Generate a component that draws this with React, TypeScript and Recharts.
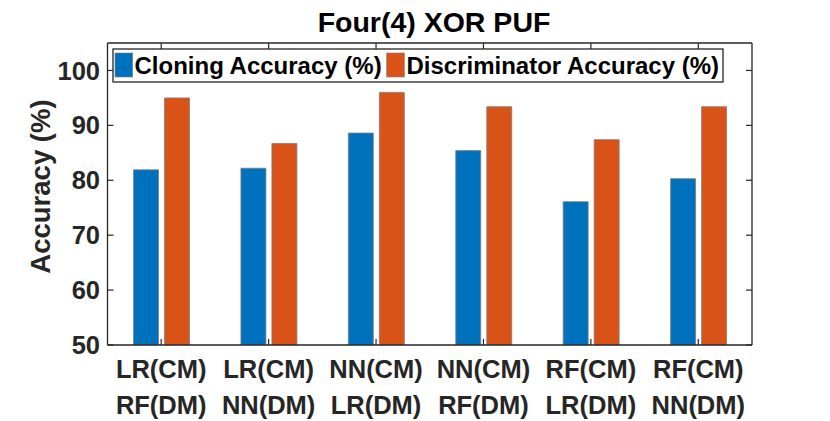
import { BarChart, Bar, XAxis, YAxis } from 'recharts';

// values
const cmLabels = ['LR(CM)', 'LR(CM)', 'NN(CM)', 'NN(CM)', 'RF(CM)', 'RF(CM)'];
const dmLabels = ['RF(DM)', 'NN(DM)', 'LR(DM)', 'RF(DM)', 'LR(DM)', 'NN(DM)'];
const cloningAccuracy = [81.9, 82.2, 88.6, 85.4, 76.1, 80.3];
const discriminatorAccuracy = [95.0, 86.7, 96.0, 93.4, 87.4, 93.4];
const yTicks = [50, 60, 70, 80, 90, 100];

const data = cmLabels.map((cm, i) => ({
  name: `${cm} ${dmLabels[i]} ${i}`,
  cloning: cloningAccuracy[i],
  discriminator: discriminatorAccuracy[i],
}));

const W = 830;
const H = 421;
const LEFT = 107.5;
const TOP = 43;
const RIGHT = 752;
const BOTTOM = 345;
const AXIS = '#262626';
const FONT = '"Liberation Sans", Arial, Helvetica, sans-serif';
const BLUE = '#0072BD';
const ORANGE = '#D95319';

const LeftTick = (props: any) => {
  const { y, payload } = props;
  return (
    <g>
      <line x1={LEFT} x2={LEFT + 6} y1={y} y2={y} stroke={AXIS} strokeWidth={1.2} />
      <text x={LEFT - 7.5} y={y} dy="0.355em" textAnchor="end" fontFamily={FONT} fontWeight="bold" fontSize={25.5} fill={AXIS}>
        {payload.value}
      </text>
    </g>
  );
};

const RightTick = (props: any) => (
  <line x1={RIGHT - 6} x2={RIGHT} y1={props.y} y2={props.y} stroke={AXIS} strokeWidth={1.2} />
);

const BottomTick = (props: any) => {
  const { x, payload } = props;
  const i = payload.index;
  return (
    <g>
      <line x1={x} x2={x} y1={BOTTOM} y2={BOTTOM - 6} stroke={AXIS} strokeWidth={1.2} />
      <text textAnchor="middle" fontFamily={FONT} fontWeight="bold" fontSize={25.5} fill={AXIS}>
        <tspan x={x} y={BOTTOM + 33.3}>{cmLabels[i]}</tspan>
        <tspan x={x} y={BOTTOM + 69}>{dmLabels[i]}</tspan>
      </text>
    </g>
  );
};

const TopTick = (props: any) => (
  <line x1={props.x} x2={props.x} y1={TOP} y2={TOP + 6} stroke={AXIS} strokeWidth={1.2} />
);

export default function App() {
  return (
    <div style={{ position: 'relative', width: W, height: H, background: '#fff' }}>
      <style>{'body{margin:0}'}</style>
      <BarChart
        width={W}
        height={H}
        data={data}
        margin={{ top: TOP - 1, right: W - RIGHT - 1, left: 0, bottom: 0 }}
        barSize={25}
        barGap={6}
      >
        <XAxis
          dataKey="name"
          height={H - BOTTOM}
          axisLine={{ stroke: AXIS, strokeWidth: 1.3 }}
          tickLine={false}
          tick={<BottomTick />}
          interval={0}
        />
        <XAxis
          xAxisId="top"
          dataKey="name"
          orientation="top"
          height={1}
          axisLine={{ stroke: AXIS, strokeWidth: 1.3 }}
          tickLine={false}
          tick={<TopTick />}
          interval={0}
        />
        <YAxis
          width={LEFT}
          domain={[50, 105]}
          ticks={yTicks}
          allowDataOverflow
          axisLine={{ stroke: AXIS, strokeWidth: 1.3 }}
          tickLine={false}
          tick={<LeftTick />}
        />
        <YAxis
          yAxisId="right"
          orientation="right"
          width={1}
          domain={[50, 105]}
          ticks={yTicks}
          allowDataOverflow
          axisLine={{ stroke: AXIS, strokeWidth: 1.3 }}
          tickLine={false}
          tick={<RightTick />}
        />
        <Bar dataKey="cloning" fill={BLUE} stroke="#7f7f7f" strokeWidth={0.8} isAnimationActive={false} />
        <Bar dataKey="discriminator" fill={ORANGE} stroke="#7f7f7f" strokeWidth={0.8} isAnimationActive={false} />
      </BarChart>

      <svg width={W} height={H} style={{ position: 'absolute', left: 0, top: 0, pointerEvents: 'none' }}>
        <text x={434} y={32} textAnchor="middle" fontFamily={FONT} fontWeight="bold" fontSize={28.5} fill="#000">
          Four(4) XOR PUF
        </text>
        <text
          transform="translate(50,186.5) rotate(-90)"
          textAnchor="middle"
          fontFamily={FONT}
          fontWeight="bold"
          fontSize={27.5}
          fill={AXIS}
        >
          Accuracy (%)
        </text>
        <rect x={113} y={49} width={610} height={33} fill="#fff" stroke={AXIS} strokeWidth={1.3} />
        <rect x={115} y={53} width={17.7} height={24} fill={BLUE} stroke="#7f7f7f" strokeWidth={0.6} />
        <text x={134.5} y={74} fontFamily={FONT} fontWeight="bold" fontSize={24} fill="#000">
          Cloning Accuracy (%)
        </text>
        <rect x={386.7} y={53} width={17.7} height={24} fill={ORANGE} stroke="#7f7f7f" strokeWidth={0.6} />
        <text x={406.5} y={74} fontFamily={FONT} fontWeight="bold" fontSize={24} fill="#000">
          Discriminator Accuracy (%)
        </text>
      </svg>
    </div>
  );
}
